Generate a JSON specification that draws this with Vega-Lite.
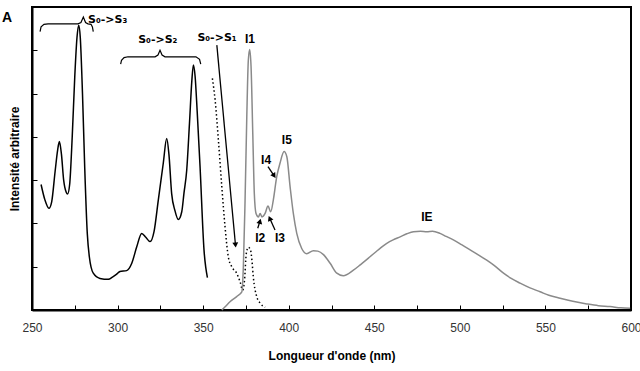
{
  "$schema": "https://vega.github.io/schema/vega-lite/v6.json",
  "width": 599,
  "height": 303,
  "autosize": {"type": "none"},
  "padding": {"left": 32, "top": 7, "right": 9, "bottom": 61},
  "background": "white",
  "config": {
    "view": {"stroke": "black", "strokeWidth": 2},
    "font": "Liberation Sans",
    "axis": {"grid": false, "domainColor": "black", "domainWidth": 2, "tickColor": "black", "tickWidth": 1, "tickSize": -5, "labelFont": "Liberation Sans", "titleFont": "Liberation Sans"}
  },
  "datasets": {
    "abs": [
      {"nm": 255.3, "v": 2.90}, {"nm": 257.5, "v": 2.55}, {"nm": 259.9, "v": 2.35}, {"nm": 261.5, "v": 2.5},
      {"nm": 263.5, "v": 3.2}, {"nm": 265, "v": 3.7}, {"nm": 266, "v": 3.89}, {"nm": 267.2, "v": 3.6},
      {"nm": 268.5, "v": 3.0}, {"nm": 270, "v": 2.72}, {"nm": 270.8, "v": 2.68}, {"nm": 272, "v": 2.9},
      {"nm": 273.5, "v": 4.0}, {"nm": 275, "v": 5.4}, {"nm": 276.3, "v": 6.3}, {"nm": 277.3, "v": 6.58},
      {"nm": 278.2, "v": 6.3}, {"nm": 279.5, "v": 5.0}, {"nm": 280.8, "v": 3.3}, {"nm": 282.3, "v": 1.77},
      {"nm": 283.5, "v": 1.23}, {"nm": 285.8, "v": 0.85}, {"nm": 289.7, "v": 0.73}, {"nm": 294.6, "v": 0.71},
      {"nm": 297, "v": 0.76}, {"nm": 299.5, "v": 0.83}, {"nm": 301.4, "v": 0.89}, {"nm": 305.3, "v": 0.91},
      {"nm": 308.3, "v": 1.08}, {"nm": 311.2, "v": 1.46}, {"nm": 314.1, "v": 1.77}, {"nm": 316.5, "v": 1.68},
      {"nm": 319, "v": 1.58}, {"nm": 321.3, "v": 1.81}, {"nm": 323.8, "v": 2.54}, {"nm": 326.7, "v": 3.39},
      {"nm": 328.7, "v": 3.96}, {"nm": 330, "v": 3.6}, {"nm": 331.6, "v": 2.69}, {"nm": 333.5, "v": 2.3},
      {"nm": 335.5, "v": 2.09}, {"nm": 337.5, "v": 2.27}, {"nm": 338.8, "v": 2.7}, {"nm": 340.4, "v": 3.23},
      {"nm": 342, "v": 4.3}, {"nm": 343.4, "v": 5.3}, {"nm": 344.3, "v": 5.66}, {"nm": 345.3, "v": 5.4},
      {"nm": 346.5, "v": 4.6}, {"nm": 348.2, "v": 3.31}, {"nm": 350.5, "v": 1.39}, {"nm": 352.5, "v": 0.75}
    ],
    "exc": [
      {"nm": 355.4, "v": 5.35}, {"nm": 357, "v": 4.85}, {"nm": 358.9, "v": 3.93}, {"nm": 360.9, "v": 2.85},
      {"nm": 362.8, "v": 1.92}, {"nm": 364.7, "v": 1.23}, {"nm": 366.7, "v": 1.0}, {"nm": 369.6, "v": 0.85},
      {"nm": 371.6, "v": 0.65}, {"nm": 373.1, "v": 0.46}, {"nm": 374.2, "v": 0.7}, {"nm": 375.2, "v": 1.3},
      {"nm": 376.4, "v": 1.45}, {"nm": 377.6, "v": 1.4}, {"nm": 378.5, "v": 1.15}, {"nm": 379.3, "v": 0.77},
      {"nm": 381.3, "v": 0.31}, {"nm": 383.5, "v": 0.15}, {"nm": 386.2, "v": 0.06}
    ],
    "em": [
      {"nm": 360.9, "v": 0.0}, {"nm": 363, "v": 0.08}, {"nm": 365.7, "v": 0.19}, {"nm": 369.6, "v": 0.31},
      {"nm": 372.6, "v": 0.42}, {"nm": 373.5, "v": 1.0}, {"nm": 374.5, "v": 2.54}, {"nm": 375.5, "v": 4.46},
      {"nm": 376.4, "v": 5.77}, {"nm": 377.2, "v": 6.02}, {"nm": 378, "v": 5.62}, {"nm": 379, "v": 4.08},
      {"nm": 379.9, "v": 2.69}, {"nm": 380.9, "v": 2.23}, {"nm": 382.3, "v": 2.15}, {"nm": 383.3, "v": 2.23},
      {"nm": 384.4, "v": 2.15}, {"nm": 386.2, "v": 2.23}, {"nm": 387.9, "v": 2.40}, {"nm": 389.5, "v": 2.27},
      {"nm": 391, "v": 2.54}, {"nm": 393, "v": 3.08}, {"nm": 394.9, "v": 3.39}, {"nm": 397.3, "v": 3.66},
      {"nm": 398.9, "v": 3.54}, {"nm": 400.8, "v": 2.85}, {"nm": 402.7, "v": 2.23}, {"nm": 404.7, "v": 1.77},
      {"nm": 407.6, "v": 1.42}, {"nm": 410.5, "v": 1.30}, {"nm": 414.4, "v": 1.37}, {"nm": 417, "v": 1.36},
      {"nm": 420.3, "v": 1.28}, {"nm": 424.2, "v": 1.08}, {"nm": 428.1, "v": 0.85}, {"nm": 431.9, "v": 0.79},
      {"nm": 437.8, "v": 0.92}, {"nm": 442, "v": 1.05}, {"nm": 447.5, "v": 1.23}, {"nm": 452, "v": 1.38},
      {"nm": 457.3, "v": 1.54}, {"nm": 461, "v": 1.62}, {"nm": 465.1, "v": 1.69}, {"nm": 469, "v": 1.76},
      {"nm": 472.9, "v": 1.81}, {"nm": 477, "v": 1.82}, {"nm": 480.7, "v": 1.81}, {"nm": 484, "v": 1.82},
      {"nm": 488.4, "v": 1.77}, {"nm": 492, "v": 1.70}, {"nm": 496.2, "v": 1.62}, {"nm": 501, "v": 1.51},
      {"nm": 506, "v": 1.39}, {"nm": 511, "v": 1.27}, {"nm": 515.7, "v": 1.15}, {"nm": 520, "v": 1.03},
      {"nm": 525.5, "v": 0.85}, {"nm": 530, "v": 0.73}, {"nm": 535.2, "v": 0.62}, {"nm": 541, "v": 0.51},
      {"nm": 546.9, "v": 0.42}, {"nm": 552, "v": 0.34}, {"nm": 558.6, "v": 0.27}, {"nm": 566, "v": 0.20},
      {"nm": 574.2, "v": 0.14}, {"nm": 581, "v": 0.10}, {"nm": 587.8, "v": 0.08}, {"nm": 594, "v": 0.05},
      {"nm": 599.5, "v": 0.04}
    ],
    "brace": [
      {"id": "b3", "o": 1, "nm": 254.7, "v": 6.43}, {"id": "b3", "o": 2, "nm": 255.3, "v": 6.54},
      {"id": "b3", "o": 3, "nm": 257, "v": 6.6}, {"id": "b3", "o": 4, "nm": 259.4, "v": 6.61},
      {"id": "b3", "o": 5, "nm": 276.9, "v": 6.61}, {"id": "b3", "o": 6, "nm": 278.6, "v": 6.64},
      {"id": "b3", "o": 7, "nm": 280, "v": 6.77}, {"id": "b3", "o": 8, "nm": 281.3, "v": 6.64},
      {"id": "b3", "o": 9, "nm": 282.7, "v": 6.61}, {"id": "b3", "o": 10, "nm": 284.5, "v": 6.6},
      {"id": "b3", "o": 11, "nm": 285.3, "v": 6.54}, {"id": "b3", "o": 12, "nm": 285.8, "v": 6.43},
      {"id": "b2", "o": 1, "nm": 301.8, "v": 5.68}, {"id": "b2", "o": 2, "nm": 302.3, "v": 5.77},
      {"id": "b2", "o": 3, "nm": 303.8, "v": 5.83}, {"id": "b2", "o": 4, "nm": 306.1, "v": 5.85},
      {"id": "b2", "o": 5, "nm": 321.9, "v": 5.85}, {"id": "b2", "o": 6, "nm": 323.6, "v": 5.89},
      {"id": "b2", "o": 7, "nm": 324.8, "v": 6.0}, {"id": "b2", "o": 8, "nm": 326, "v": 5.89},
      {"id": "b2", "o": 9, "nm": 327.7, "v": 5.85}, {"id": "b2", "o": 10, "nm": 345.8, "v": 5.85},
      {"id": "b2", "o": 11, "nm": 347.9, "v": 5.79}, {"id": "b2", "o": 12, "nm": 348.6, "v": 5.68}
    ],
    "arrows": [
      {"id": "s1", "o": 1, "nm": 358, "v": 6.12}, {"id": "s1", "o": 2, "nm": 368.9, "v": 1.5},
      {"id": "i4", "o": 1, "nm": 387.9, "v": 3.31}, {"id": "i4", "o": 2, "nm": 391.5, "v": 3.1},
      {"id": "i2", "o": 1, "nm": 381.9, "v": 1.89}, {"id": "i2", "o": 2, "nm": 383.2, "v": 2.05},
      {"id": "i3", "o": 1, "nm": 392, "v": 1.85}, {"id": "i3", "o": 2, "nm": 388.9, "v": 2.12}
    ],
    "heads": [
      {"nm": 368.9, "v": 1.5, "ang": 174.6},
      {"nm": 391.5, "v": 3.1, "ang": 146},
      {"nm": 383.2, "v": 2.05, "ang": 15.5},
      {"nm": 388.9, "v": 2.12, "ang": 337}
    ],
    "slabels": [
      {"t": "S₀->S₃", "nm": 294.2, "v": 6.70},
      {"t": "S₀->S₂", "nm": 323.5, "v": 6.24},
      {"t": "S₀->S₁", "nm": 358.1, "v": 6.28}
    ],
    "ilabels": [
      {"t": "I1", "nm": 377.4, "v": 6.26},
      {"t": "I5", "nm": 398.9, "v": 3.93},
      {"t": "I4", "nm": 386.8, "v": 3.46},
      {"t": "I2", "nm": 383.3, "v": 1.66},
      {"t": "I3", "nm": 394.9, "v": 1.66},
      {"t": "IE", "nm": 480.7, "v": 2.15}
    ],
    "panel": [{"t": "A", "nm": 250, "v": 6.74}]
  },
  "layer": [
    {
      "data": {"name": "abs"},
      "mark": {"type": "line", "color": "black", "strokeWidth": 1.5, "interpolate": "monotone"},
      "encoding": {
        "x": {"field": "nm", "type": "quantitative", "scale": {"domain": [250, 600], "nice": false},
          "axis": {"values": [250, 275, 300, 325, 350, 375, 400, 425, 450, 475, 500, 525, 550, 575, 600],
            "labelExpr": "datum.value % 50 === 0 ? datum.label : ''", "labelFontSize": 12, "labelColor": "#333333",
            "labelFlush": false, "labelPadding": 17, "title": "Longueur d'onde (nm)", "titleFontSize": 12, "titleFontWeight": "bold", "titleColor": "black", "titlePadding": 17}},
        "y": {"field": "v", "type": "quantitative", "scale": {"domain": [0, 7], "nice": false},
          "axis": {"values": [0, 1, 2, 3, 4, 5, 6, 7], "labels": false, "title": "Intensité arbitraire",
            "titleFontSize": 12, "titleFontWeight": "bold", "titleColor": "black", "titlePadding": 10}}
      }
    },
    {
      "data": {"name": "exc"},
      "mark": {"type": "line", "color": "black", "strokeWidth": 1.5, "strokeDash": [1.5, 2.5], "interpolate": "monotone"},
      "encoding": {"x": {"field": "nm", "type": "quantitative"}, "y": {"field": "v", "type": "quantitative"}}
    },
    {
      "data": {"name": "em"},
      "mark": {"type": "line", "color": "#8a8a8a", "strokeWidth": 1.5, "interpolate": "monotone"},
      "encoding": {"x": {"field": "nm", "type": "quantitative"}, "y": {"field": "v", "type": "quantitative"}}
    },
    {
      "data": {"name": "brace"},
      "mark": {"type": "line", "color": "black", "strokeWidth": 1.2},
      "encoding": {"x": {"field": "nm", "type": "quantitative"}, "y": {"field": "v", "type": "quantitative"},
        "detail": {"field": "id"}, "order": {"field": "o"}}
    },
    {
      "data": {"name": "arrows"},
      "mark": {"type": "line", "color": "black", "strokeWidth": 1.3},
      "encoding": {"x": {"field": "nm", "type": "quantitative"}, "y": {"field": "v", "type": "quantitative"},
        "detail": {"field": "id"}, "order": {"field": "o"}}
    },
    {
      "data": {"name": "heads"},
      "mark": {"type": "point", "shape": "triangle-up", "filled": true, "color": "black", "size": 35, "opacity": 1},
      "encoding": {"x": {"field": "nm", "type": "quantitative"}, "y": {"field": "v", "type": "quantitative"},
        "angle": {"field": "ang", "type": "quantitative", "scale": null}}
    },
    {
      "data": {"name": "slabels"},
      "mark": {"type": "text", "font": "DejaVu Sans", "fontWeight": "bold", "fontSize": 11, "color": "black", "baseline": "middle", "align": "center"},
      "encoding": {"x": {"field": "nm", "type": "quantitative"}, "y": {"field": "v", "type": "quantitative"},
        "text": {"field": "t"}}
    },
    {
      "data": {"name": "ilabels"},
      "mark": {"type": "text", "font": "Liberation Sans", "fontWeight": "bold", "fontSize": 12, "color": "black", "baseline": "middle", "align": "center"},
      "encoding": {"x": {"field": "nm", "type": "quantitative"}, "y": {"field": "v", "type": "quantitative"},
        "text": {"field": "t"}}
    },
    {
      "data": {"name": "panel"},
      "mark": {"type": "text", "font": "Liberation Sans", "fontWeight": "bold", "fontSize": 14, "color": "black", "baseline": "middle", "align": "center", "dx": -25, "clip": false},
      "encoding": {"x": {"field": "nm", "type": "quantitative"}, "y": {"field": "v", "type": "quantitative"}, "text": {"field": "t"}}
    }
  ]
}
